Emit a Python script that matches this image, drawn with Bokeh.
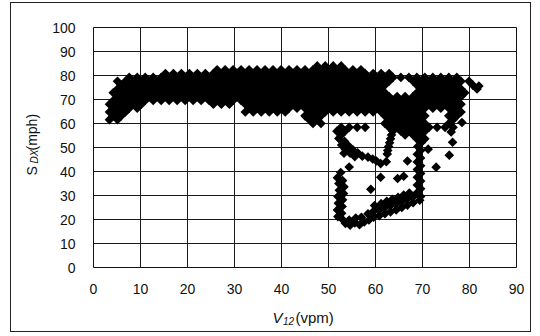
import math
from bokeh.plotting import figure
from bokeh.models import Title, FixedTicker
from bokeh.embed import file_html
from bokeh.resources import INLINE

# ---- data: V12 (vpm) vs SDX (mph) ----
x_ticks = [0, 10, 20, 30, 40, 50, 60, 70, 80, 90]
y_ticks = [0, 10, 20, 30, 40, 50, 60, 70, 80, 90, 100]

# dense band, read as rows of points at a given SDX level
v_840 = [47.6, 49.3, 51.0, 52.7]
v_824 = [26.3, 28.0, 29.7, 31.4, 33.1, 34.8, 36.5, 38.2, 39.9, 41.6, 43.3, 45.0, 46.7, 48.4, 50.1, 51.8, 53.5, 55.2, 56.9]
v_808 = [15.3, 17.0, 18.7, 20.4, 22.1, 23.8, 25.5, 27.2, 28.9, 30.6, 32.3, 34.0, 35.7, 37.4, 39.1, 40.8, 42.5, 44.2, 45.9, 47.6,
         49.3, 51.0, 52.7, 54.4, 56.1, 57.8, 59.5, 61.2, 62.9]
v_792 = [7.6, 9.3, 11.0, 12.7, 14.4, 16.1, 17.8, 19.5, 21.2, 22.9, 24.6, 26.3, 28.0, 29.7, 31.4, 33.1, 34.8, 36.5, 38.2, 39.9,
         41.6, 43.3, 45.0, 46.7, 48.4, 50.1, 51.8, 53.5, 55.2, 56.9, 58.6, 60.3, 62.0, 63.7, 65.4, 67.1, 68.8, 70.5, 72.2, 73.9,
         75.6, 77.3]
v_776 = [5.1, 6.8, 8.5, 10.2, 11.9, 13.6, 15.3, 17.0, 18.7, 20.4, 22.1, 23.8, 25.5, 27.2, 28.9, 30.6, 32.3, 34.0, 35.7, 37.4,
         39.1, 40.8, 42.5, 44.2, 45.9, 47.6, 49.3, 51.0, 52.7, 54.4, 56.1, 57.8, 59.5, 61.2, 62.9, 68.0, 69.7, 71.4, 73.1, 74.8,
         76.5, 78.2, 79.9]
v_760 = [5.9, 7.6, 9.3, 11.0, 12.7, 14.4, 16.1, 17.8, 19.5, 21.2, 22.9, 24.6, 26.3, 28.0, 29.7, 31.4, 33.1, 34.8, 36.5, 38.2,
         39.9, 41.6, 43.3, 45.0, 46.7, 48.4, 50.1, 51.8, 53.5, 55.2, 56.9, 58.6, 60.3, 62.0, 68.8, 70.5, 72.2, 73.9, 75.6, 77.3,
         80.7]
v_744 = [5.1, 6.8, 8.5, 10.2, 11.9, 13.6, 15.3, 17.0, 18.7, 20.4, 22.1, 23.8, 25.5, 27.2, 28.9, 30.6, 32.3, 34.0, 35.7, 37.4,
         39.1, 40.8, 42.5, 44.2, 45.9, 47.6, 49.3, 51.0, 52.7, 54.4, 56.1, 57.8, 59.5, 61.2, 69.7, 71.4, 73.1, 74.8, 76.5, 78.2,
         81.6]
v_728 = [4.2, 5.9, 7.6, 9.3, 11.0, 12.7, 14.4, 16.1, 17.8, 19.5, 21.2, 22.9, 24.6, 26.3, 28.0, 29.7, 31.4, 33.1, 34.8, 36.5,
         38.2, 39.9, 41.6, 43.3, 45.0, 46.7, 48.4, 50.1, 51.8, 53.5, 55.2, 56.9, 58.6, 60.3, 62.0, 68.8, 70.5, 72.2, 73.9, 75.6,
         77.3, 79.0]
v_712 = [5.1, 6.8, 8.5, 10.2, 11.9, 13.6, 15.3, 17.0, 18.7, 20.4, 22.1, 23.8, 25.5, 27.2, 28.9, 30.6, 32.3, 34.0, 35.7, 37.4,
         39.1, 40.8, 42.5, 44.2, 45.9, 47.6, 49.3, 51.0, 52.7, 54.4, 56.1, 57.8, 59.5, 61.2, 62.9, 64.6, 66.3, 68.0, 69.7, 71.4,
         73.1, 74.8, 76.5, 78.2]
v_696 = [4.2, 5.9, 7.6, 9.3, 11.0, 12.7, 14.4, 16.1, 17.8, 19.5, 21.2, 22.9, 24.6, 26.3, 28.0, 29.7, 31.4, 33.1, 34.8, 36.5,
         38.2, 39.9, 41.6, 43.3, 45.0, 46.7, 48.4, 50.1, 51.8, 53.5, 55.2, 56.9, 58.6, 60.3, 62.0, 63.7, 65.4, 67.1, 68.8, 70.5,
         72.2, 73.9, 75.6, 77.3]
v_680 = [3.4, 5.1, 6.8, 8.5, 10.2, 25.5, 27.2, 28.9, 32.3, 34.0, 35.7, 37.4, 39.1, 40.8, 42.5, 44.2, 45.9, 47.6, 49.3, 51.0,
         52.7, 54.4, 56.1, 57.8, 59.5, 61.2, 62.9, 64.6, 66.3, 68.0, 69.7, 71.4, 73.1, 74.8, 76.5, 78.2]
v_664 = [4.2, 5.9, 7.6, 9.3, 33.1, 34.8, 36.5, 38.2, 39.9, 41.6, 43.3, 45.0, 46.7, 48.4, 50.1, 51.8, 53.5, 55.2, 56.9, 58.6,
         60.3, 62.0, 63.7, 65.4, 67.1, 68.8, 70.5, 72.2, 73.9, 75.6, 77.3]
v_648 = [3.4, 5.1, 6.8, 32.3, 34.0, 35.7, 37.4, 39.1, 40.8, 45.9, 47.6, 49.3, 51.0, 52.7, 54.4, 56.1, 57.8, 59.5, 61.2, 62.9,
         64.6, 66.3, 68.0, 69.7, 76.5, 78.2]
v_632 = [4.2, 5.9, 45.0, 46.7, 48.4, 62.0, 63.7, 65.4, 67.1, 68.8, 70.5, 75.6, 77.3]
v_616 = [3.4, 5.1, 45.9, 47.6, 62.9, 64.6, 66.3, 68.0, 69.7, 76.5]
v_600 = [46.7, 48.4, 62.0, 63.7, 65.4, 67.1, 68.8, 70.5, 75.6]
v_584 = [52.7, 54.4, 56.1, 57.8, 62.9, 64.6, 66.3, 68.0, 69.7, 71.4, 73.1, 74.8, 76.5]
v_568 = [51.8, 53.5, 63.7, 65.4, 67.1, 68.8, 70.5]
v_552 = [52.7, 66.3, 68.0, 69.7]

row_levels = [84.0, 82.4, 80.8, 79.2, 77.6, 76.0, 74.4, 72.8, 71.2, 69.6, 68.0, 66.4, 64.8, 63.2, 61.6, 60.0, 58.4, 56.8, 55.2]
row_lists = [v_840, v_824, v_808, v_792, v_776, v_760, v_744, v_728, v_712, v_696, v_680, v_664, v_648, v_632, v_616,
             v_600, v_584, v_568, v_552]

# descending tail below the band
tail_v = [52.2, 53.4, 52.8, 54.2, 53.6, 55.2, 53.3, 54.6, 56.2, 55.6, 57.2, 58.4, 59.4, 60.2, 61.1, 62.3]
tail_s = [53.8, 52.6, 51.0, 50.8, 49.2, 49.0, 47.6, 47.6, 47.8, 46.2, 46.4, 46.0, 45.2, 44.4, 43.3, 44.1]
# short column near V12 = 63
col_v = [63.4, 63.2, 63.0, 62.8, 62.6, 62.5]
col_s = [55.2, 53.6, 52.0, 50.4, 48.8, 47.3]
# column near V12 = 69
rcol_v = [70.5, 68.8, 69.7, 69.0, 69.6, 68.9, 69.6, 68.9, 69.6, 68.9, 69.6, 68.9, 69.6, 68.9, 69.6, 68.9, 69.6, 69.4]
rcol_s = [53.6, 53.6, 52.0, 50.4, 48.8, 47.2, 45.6, 44.0, 42.4, 40.8, 39.2, 37.6, 36.0, 34.4, 32.8, 31.2, 29.6, 28.0]
# left side and bottom of the low-speed loop
loop_v = [52.6, 51.9, 53.0, 52.2, 53.3, 52.3, 53.2, 52.0, 53.0, 52.1, 52.9, 51.9, 52.8, 52.0, 53.0, 53.6, 54.6, 55.6,
          56.6, 57.6, 54.4, 55.8, 57.0]
loop_s = [39.6, 37.4, 36.2, 35.0, 33.6, 32.2, 30.8, 29.6, 28.2, 26.8, 25.4, 24.0, 22.6, 21.2, 20.0, 18.4, 17.6, 18.6,
          17.8, 19.0, 19.8, 20.6, 20.9]
# rising recovery branch
rise_v = [58.6, 59.6, 60.8, 62.0, 63.2, 64.4, 65.6, 66.8, 68.0, 58.4, 59.6, 60.8, 62.0, 63.2, 64.4, 65.6, 66.8, 68.0,
          59.8, 61.2, 62.4, 63.6, 64.8, 66.0, 67.2]
rise_s = [19.8, 21.0, 21.6, 22.4, 23.2, 24.0, 25.0, 26.0, 27.0, 22.4, 23.4, 24.0, 25.0, 25.8, 26.6, 27.6, 28.6, 29.4,
          25.8, 26.6, 27.6, 28.4, 29.2, 30.2, 31.0]
# scattered single points
stray_v = [54.4, 61.1, 59.0, 64.7, 66.0, 66.8, 71.2, 72.9, 75.7, 76.4, 76.1, 78.4, 82.0]
stray_s = [41.9, 37.6, 32.6, 37.1, 38.0, 44.4, 49.3, 41.8, 46.8, 52.2, 56.5, 60.4, 75.6]

v12 = []
sdx = []
for lvl, xs in zip(row_levels, row_lists):
    for xv in xs:
        v12.append(xv)
        sdx.append(lvl)
for xs, ys in [(tail_v, tail_s), (col_v, col_s), (rcol_v, rcol_s), (loop_v, loop_s), (rise_v, rise_s), (stray_v, stray_s)]:
    v12.extend(xs)
    sdx.extend(ys)

FONT = "Liberation Sans"
INK = "#111111"

p = figure(width=521, height=330, x_range=(0, 90), y_range=(0, 100),
           output_backend="svg", toolbar_location=None,
           min_border_left=82, min_border_right=16, min_border_top=24, min_border_bottom=66)
p.styles = {"margin-left": "10px", "margin-top": "2px", "border": "1px solid #222222"}
p.background_fill_color = "white"
p.border_fill_color = "white"
p.outline_line_color = INK
p.outline_line_width = 1

p.xaxis.ticker = FixedTicker(ticks=x_ticks)
p.yaxis.ticker = FixedTicker(ticks=y_ticks)
for ax in (p.xaxis[0], p.yaxis[0]):
    ax.axis_line_color = None
    ax.major_tick_line_color = None
    ax.minor_tick_line_color = None
    ax.major_label_text_font = FONT
    ax.major_label_text_font_size = "14px"
    ax.major_label_text_color = INK
p.xaxis.major_label_standoff = 10
p.yaxis.major_label_standoff = 12

p.xgrid.grid_line_color = "#1a1a1a"
p.ygrid.grid_line_color = "#1a1a1a"
p.xgrid.grid_line_width = 1
p.ygrid.grid_line_width = 1

p.scatter(v12, sdx, marker="square", size=6.8, angle=math.pi / 4,
          fill_color="black", line_color=None)


# axis titles with subscripts, built from side-panel titles
def title_piece(text, size_px, offset, standoff, valign, style="normal"):
    return Title(text=text, align="left", offset=offset, standoff=standoff,
                 vertical_align=valign, text_font=FONT, text_font_size=f"{size_px}px",
                 text_font_style=style, text_color=INK)


def height_of(size_px):
    return round(size_px * 1.15, 1)


# spacer bands push the title line outwards, the pieces themselves take no room
p.add_layout(title_piece("\u00a0", 10, 0, 3.0, "middle"), "left")
p.add_layout(title_piece("S", 14, 92, -(2 + height_of(14)), "top"), "left")
p.add_layout(title_piece("DX", 10, 104, -(2 + height_of(10)), "bottom", "italic"), "left")
p.add_layout(title_piece("(mph)", 14, 117, -(2 + height_of(14)), "top"), "left")

p.add_layout(title_piece("\u00a0", 10, 0, 9.0, "middle"), "below")
p.add_layout(title_piece("V", 15, 179, -(2 + height_of(15)), "top", "italic"), "below")
p.add_layout(title_piece("12", 10, 189.5, -(2 + height_of(10)), "bottom", "italic"), "below")
p.add_layout(title_piece("(vpm)", 15, 202, -(2 + height_of(15)), "top"), "below")

open("out.html", "w").write(file_html(p, INLINE))
